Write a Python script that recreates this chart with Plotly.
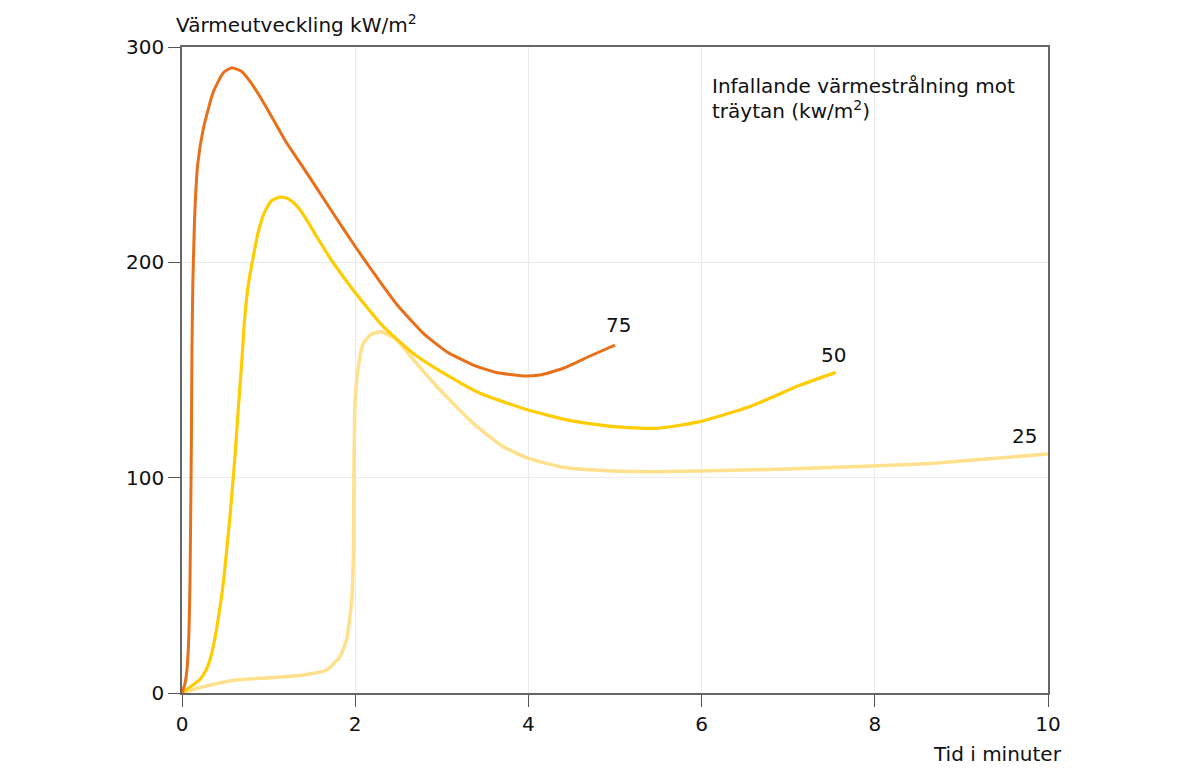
import plotly.graph_objects as go

# === Data ===
# 75 kW/m2
t75 = [0, 0.035, 0.06, 0.08, 0.092, 0.10, 0.108, 0.115, 0.125, 0.145, 0.18, 0.246, 0.36,
       0.477, 0.574, 0.689, 0.785, 0.90, 1.016, 1.20, 1.40, 1.709, 2.006, 2.286, 2.479,
       2.787, 3.056, 3.364, 3.634, 3.941, 4.134, 4.403, 4.711, 5.0]
q75 = [0, 4.5, 12, 28, 51, 82, 115, 160, 190, 220, 245, 262, 279,
       288, 290.4, 288.6, 284, 277, 269, 256, 244, 225, 207, 191, 180.5,
       167, 158.5, 152.3, 148.8, 147.2, 147.7, 150.8, 156.5, 161.6]

# 50 kW/m2
t50 = [0, 0.1, 0.2, 0.27, 0.32, 0.361, 0.42, 0.477, 0.52, 0.554, 0.612, 0.65, 0.689,
       0.72, 0.76, 0.82, 0.88, 0.95, 1.03, 1.12, 1.2, 1.28, 1.36, 1.45, 1.555, 1.709,
       1.85, 2.006, 2.325, 2.671, 3.056, 3.441, 4.0, 4.48, 4.98, 5.48, 5.98, 6.56, 7.14, 7.55]
q50 = [0, 3, 6, 10, 15, 21.5, 35, 51, 68, 82, 110, 132, 153,
       172, 188, 202, 214, 223, 228.5, 230.2, 230, 228, 224.5, 219, 212, 202,
       194, 185.6, 170.1, 157.7, 147.7, 139.2, 131.4, 126.5, 123.7, 122.9, 126, 133, 143, 148.9]

# 25 kW/m2
t25 = [0, 0.246, 0.63, 1.016, 1.40, 1.67, 1.824, 1.90, 1.96, 1.98, 1.986, 2.0, 2.036,
       2.094, 2.18, 2.29, 2.40, 2.48, 2.71, 2.98, 3.364, 3.71, 4.0, 4.40, 4.98, 5.48,
       5.98, 6.98, 7.98, 8.68, 9.25, 10.0]
q25 = [0, 2.9, 6, 7.1, 8.4, 10.7, 16.9, 24.6, 43.2, 66.4, 105, 136, 151.5,
       162.4, 166.5, 167.8, 166, 164, 153, 140.7, 125.2, 114.4, 109, 104.8, 103.1, 102.8,
       103.1, 104, 105.4, 106.7, 108.5, 111]

series = [
    ("25", t25, q25, "#FFE08C", 3.5, 9.73, 119.5),
    ("50", t50, q50, "#FFCC00", 3.2, 7.52, 157),
    ("75", t75, q75, "#E8701A", 3.0, 5.04, 171),
]

font = "DejaVu Sans, Verdana, sans-serif"

fig = go.Figure()
for name, t, q, col, w, lx, ly in series:
    fig.add_trace(go.Scatter(
        x=t, y=q, mode="lines", name=name,
        line=dict(color=col, width=w, shape="spline", smoothing=0.5),
        hoverinfo="skip"
    ))
    fig.add_annotation(x=lx, y=ly, text=name, showarrow=False,
                       font=dict(size=20, color="#111"))

# Titles and legend text
fig.add_annotation(xref="paper", yref="paper", x=-0.009, y=1.012,
                   xanchor="left", yanchor="bottom", showarrow=False,
                   text="Värmeutveckling kW/m<sup>2</sup>",
                   font=dict(size=20, color="#111"))
fig.add_annotation(xref="paper", yref="paper", x=1.018, y=-0.094,
                   xanchor="right", yanchor="middle", showarrow=False,
                   text="Tid i minuter", font=dict(size=20, color="#111"))
# two lines written separately for tighter line spacing
fig.add_annotation(x=6.1, y=281.8, xanchor="left", yanchor="middle", showarrow=False,
                   text="Infallande värmestrålning mot",
                   font=dict(size=20, color="#111"))
fig.add_annotation(x=6.1, y=270.6, xanchor="left", yanchor="middle", showarrow=False,
                   text="träytan (kw/m<sup>2</sup>)",
                   font=dict(size=20, color="#111"))

axis_style = dict(showgrid=True, gridcolor="#EBEBEB", gridwidth=1,
                  showline=True, linecolor="#666", linewidth=1.5, mirror=True,
                  ticks="outside", ticklen=12, tickcolor="#555",
                  zeroline=False, tickfont=dict(size=20, color="#111"))
fig.update_xaxes(range=[0, 10], tickvals=[0, 2, 4, 6, 8, 10], **axis_style)
fig.update_yaxes(range=[0, 300], tickvals=[0, 100, 200, 300], **axis_style)

# page body has an 8px margin, so the margins are shifted by that amount
fig.update_layout(
    width=1200, height=783,
    margin=dict(l=174, r=160, t=39, b=98),
    paper_bgcolor="white", plot_bgcolor="white",
    showlegend=False,
    font=dict(family=font, size=20, color="#111"),
)

fig.write_html("out.html")
